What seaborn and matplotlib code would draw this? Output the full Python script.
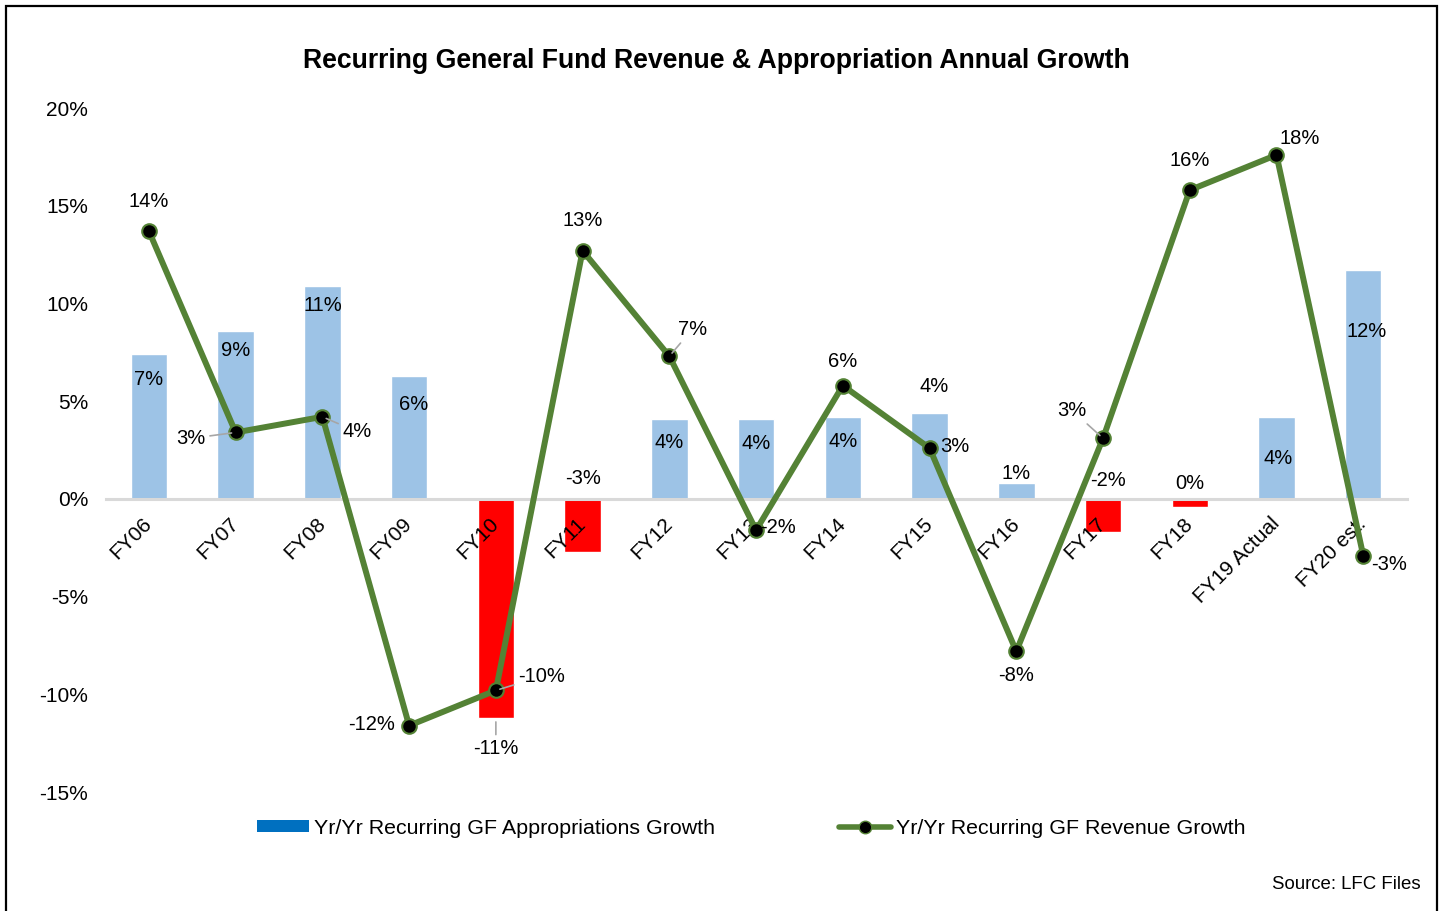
import numpy as np
import matplotlib
matplotlib.use("Agg")
import matplotlib.pyplot as plt
from matplotlib.patches import Rectangle, Patch
from matplotlib.lines import Line2D
from matplotlib.ticker import FuncFormatter
import seaborn as sns

# ----- data (percent) ----- #
years = ["FY06", "FY07", "FY08", "FY09", "FY10", "FY11", "FY12", "FY13",
         "FY14", "FY15", "FY16", "FY17", "FY18", "FY19 Actual", "FY20 est."]
approp_growth = [7.4, 8.6, 10.9, 6.3, -11.2, -2.7, 4.1, 4.1, 4.2, 4.4, 0.8, -1.7, -0.4, 4.2, 11.7]
revenue_growth = [13.7, 3.4, 4.2, -11.6, -9.8, 12.7, 7.3, -1.6, 5.8, 2.6, -7.8, 3.1, 15.8, 17.6, -2.9]
y_ticks = [-15, -10, -5, 0, 5, 10, 15, 20]

title = "Recurring General Fund Revenue & Appropriation Annual Growth"
legend_labels = ["Yr/Yr Recurring GF Appropriations Growth", "Yr/Yr Recurring GF Revenue Growth"]
source = "Source: LFC Files"

# label placement (pixel offsets from each mark, up is positive)
line_lbl_off = [(0, 30), (-45, -6), (35, -15), (-38, 1), (46, 14), (0, 30), (23, 27), (22, 3),
                (0, 24), (25, 2), (0, -24), (-31, 28), (0, 30), (23, 16), (26, -9)]
line_leader = [1, 2, 4, 6, 11]
bar_lbl_off = [(0, -25), (0, -20), (0, -20), (4, -29), (0, -31), (0, 73), (0, -24), (0, -25),
               (0, -25), (5, 26), (0, 10), (5, 52), (0, 23), (2, -42), (3, -61)]
bar_leader = [4]

BLUE = "#9DC3E6"
RED = "#FF0000"
GREEN = "#548235"

sns.set_theme(style="white")
plt.rcParams["font.family"] = ["Liberation Sans", "DejaVu Sans"]
plt.rcParams["text.color"] = "black"

fig = plt.figure(figsize=(14.44, 9.11), dpi=100)
ax = fig.add_axes([0.0731, 0.1306, 0.901, 0.7508])

x = np.arange(len(years))
bar_colors = [BLUE if v >= 0 else RED for v in approp_growth]
sns.barplot(x=x, y=approp_growth, hue=x, palette=bar_colors, legend=False,
            width=0.42, saturation=1, ax=ax)
sns.lineplot(x=x, y=revenue_growth, color=GREEN, linewidth=4.3, marker="o",
             markersize=10.5, markerfacecolor="black", markeredgecolor=GREEN,
             markeredgewidth=1.5, sort=False, ax=ax, zorder=4)

# spine first: moving it resets the tick objects
for s in ["top", "right", "left"]:
    ax.spines[s].set_visible(False)
ax.spines["bottom"].set_position(("data", 0))
ax.spines["bottom"].set_color("#D9D9D9")
ax.spines["bottom"].set_linewidth(2.2)
ax.spines["bottom"].set_zorder(1)

ax.set_ylim(-15, 20)
ax.set_xlim(-0.5, len(years) - 0.5)
ax.set_yticks(y_ticks)
ax.yaxis.set_major_formatter(FuncFormatter(lambda v, _: f"{v:.0f}%"))
ax.tick_params(axis="both", length=0, labelsize=15, colors="black")
ax.tick_params(axis="y", pad=12.5)
ax.tick_params(axis="x", pad=15.7, labelrotation=45)
ax.set_xlabel("")
ax.set_ylabel("")
ax.set_xticks(x)
ax.set_xticklabels(years)
for lbl in ax.get_xticklabels():
    lbl.set_ha("right")
    lbl.set_va("center")
    lbl.set_rotation_mode("anchor")
ax.xaxis.set_zorder(3.5)  # category names sit over the red bars, under the line

leader = dict(arrowstyle="-", color="#A6A6A6", lw=1.2, shrinkA=1, shrinkB=3)

for i, v in enumerate(approp_growth):
    dx, dy = bar_lbl_off[i]
    ax.annotate(f"{round(v)}%", (i, v), xytext=(dx, dy), textcoords="offset pixels",
                ha="center", va="center", fontsize=14.5, color="black", zorder=5,
                arrowprops=leader if i in bar_leader else None)

for i, v in enumerate(revenue_growth):
    dx, dy = line_lbl_off[i]
    ax.annotate(f"{round(v)}%", (i, v), xytext=(dx, dy), textcoords="offset pixels",
                ha="center", va="center", fontsize=14.5, color="black", zorder=5,
                arrowprops=leader if i in line_leader else None)

fig.text(0.4958, 0.933, title, ha="center", va="center", fontsize=19.2, fontweight="bold",
         color="black")
fig.text(0.984, 0.0296, source, ha="right", va="center", fontsize=13.4, color="black")

handles = [Patch(facecolor="#0070C0", edgecolor="none"),
           Line2D([], [], color=GREEN, linewidth=4, marker="o", markersize=9,
                  markerfacecolor="black", markeredgecolor=GREEN)]
fig.legend(handles, legend_labels, loc="center", bbox_to_anchor=(0.5204, 0.0911), ncol=2,
           frameon=False, fontsize=15.4, handlelength=2.4, handleheight=0.5,
           handletextpad=0.25, columnspacing=5.8, labelcolor="black")

fig.add_artist(Rectangle((0.0042, -0.01), 0.991, 1.0034, transform=fig.transFigure,
                         fill=False, edgecolor="black", linewidth=1.6))

fig.savefig("out.png", dpi=100)
